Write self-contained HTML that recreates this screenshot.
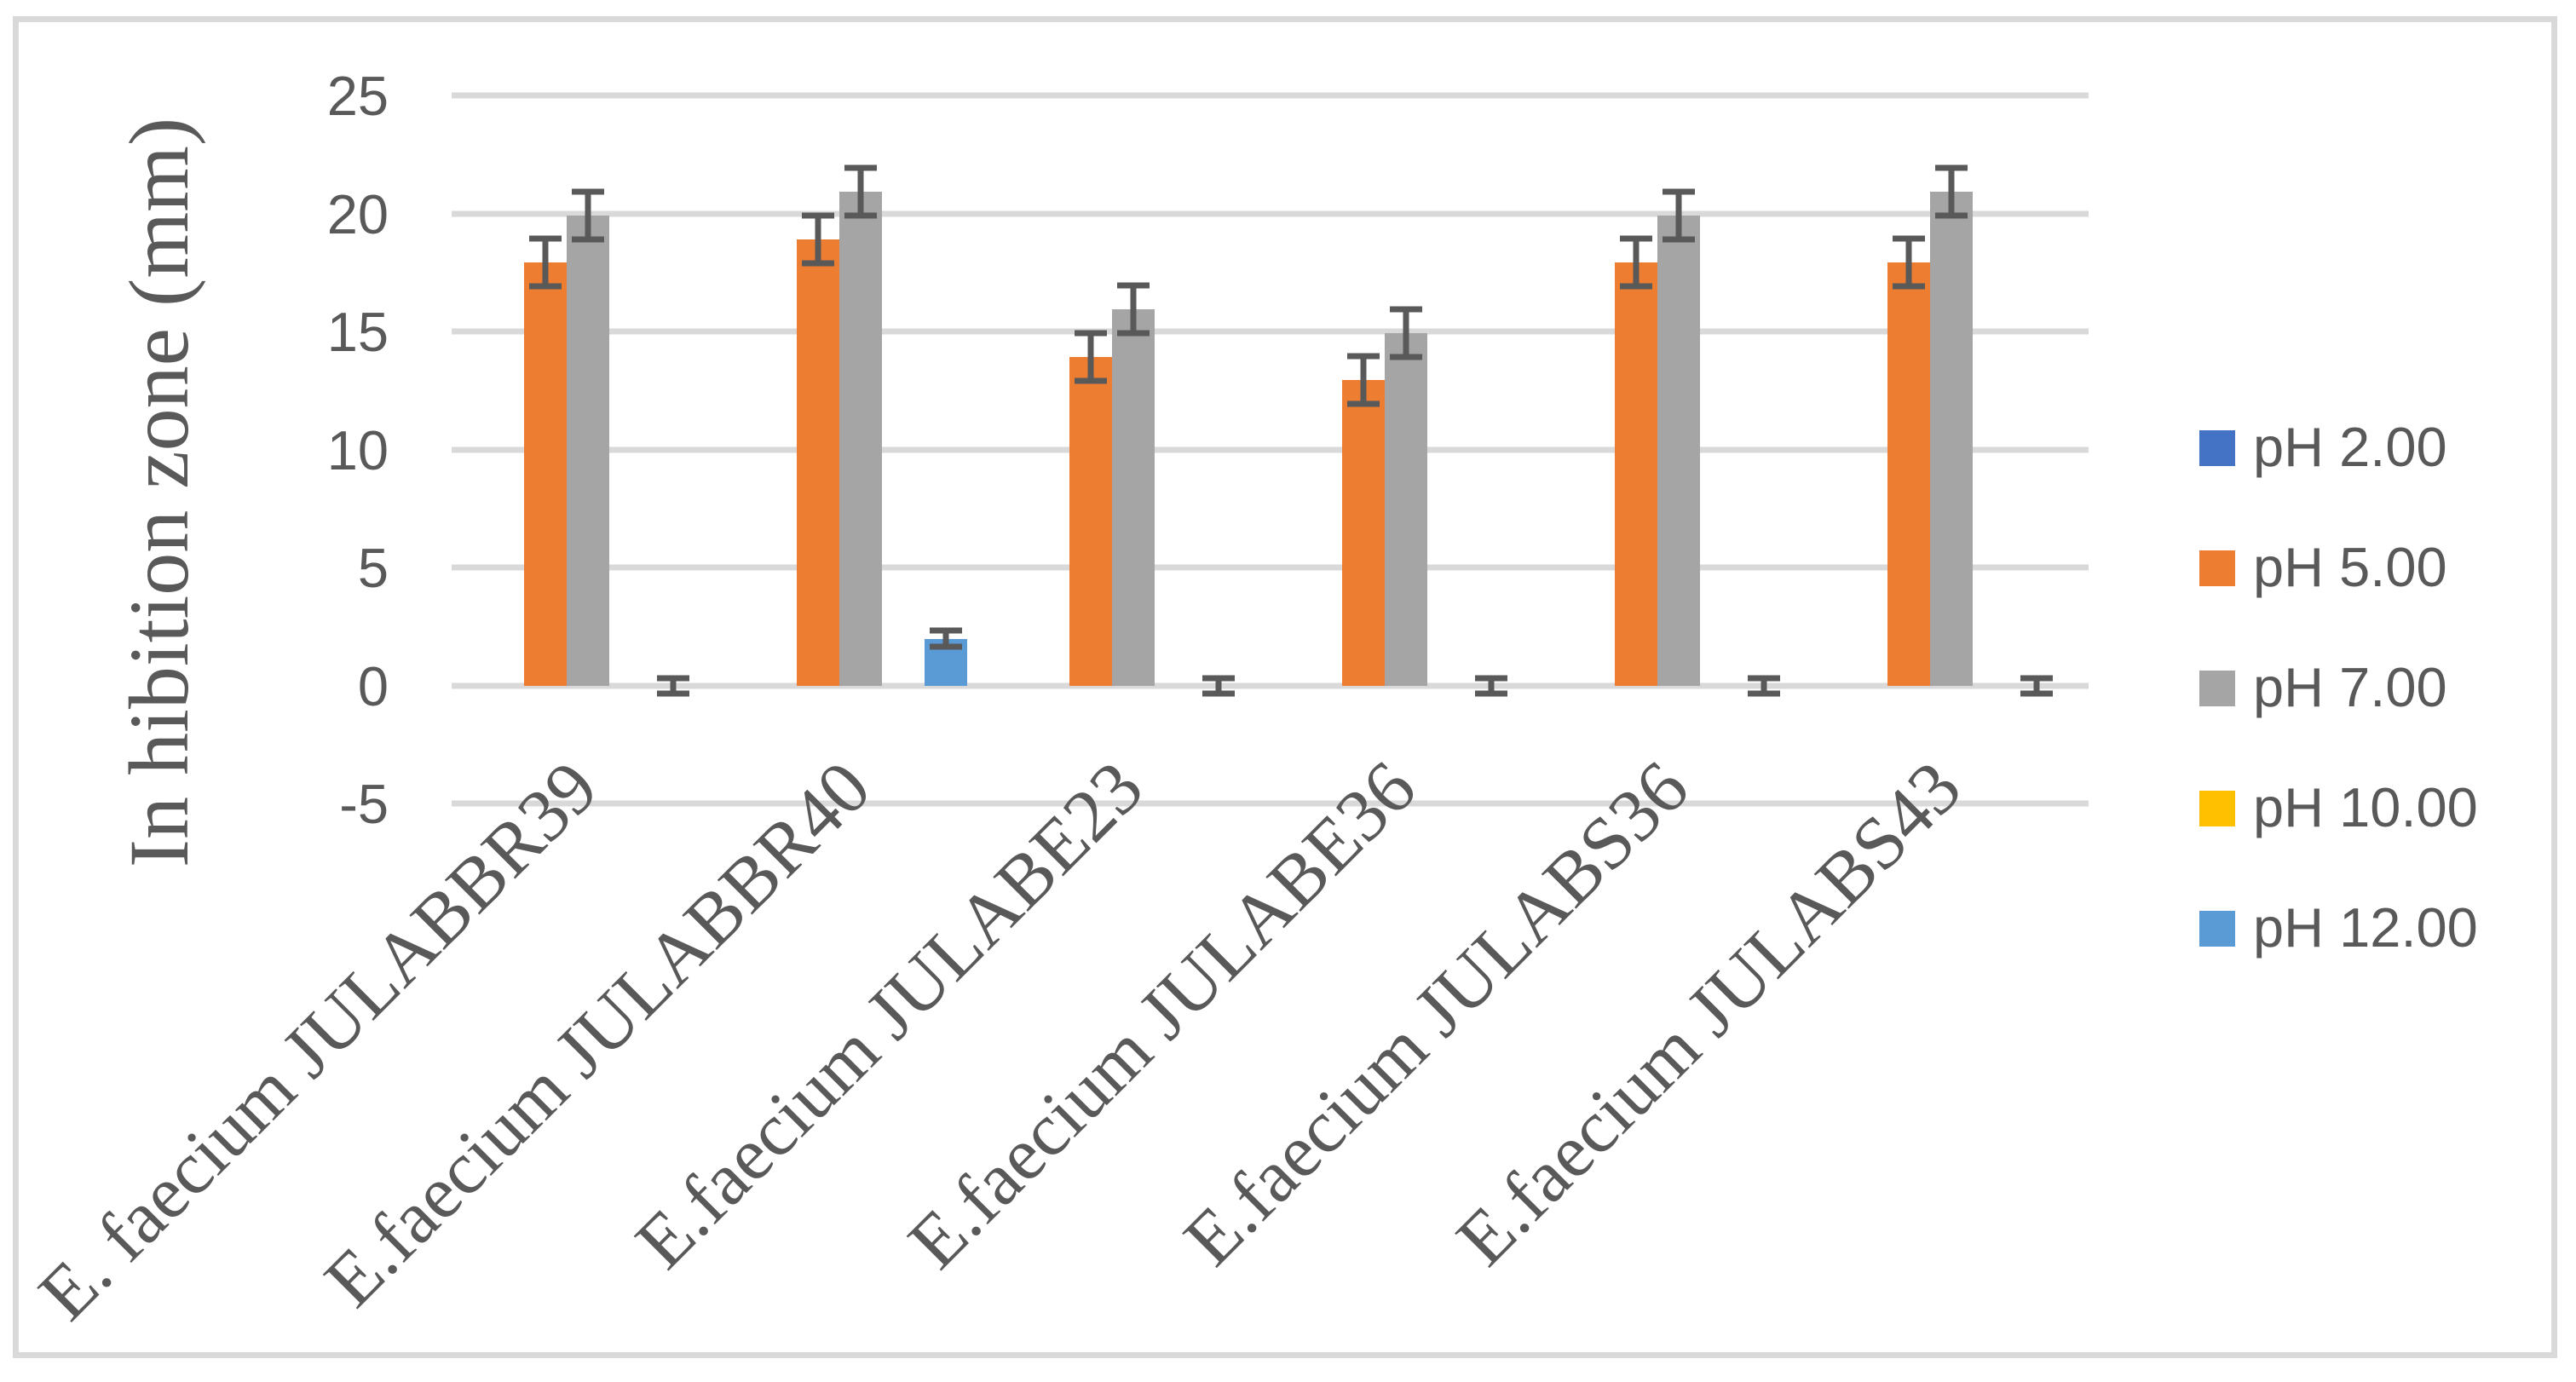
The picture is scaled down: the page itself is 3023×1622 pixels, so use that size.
<!DOCTYPE html>
<html><head><meta charset="utf-8"><style>html,body{margin:0;padding:0;background:#fff}svg{display:block}</style></head>
<body>
<svg width="3023" height="1622" viewBox="0 0 3023 1622" xmlns="http://www.w3.org/2000/svg">
<rect x="0" y="0" width="3023" height="1622" fill="#fff"/>
<rect x="18.5" y="22.5" width="2979" height="1568" fill="none" stroke="#d9d9d9" stroke-width="7"/>
<g stroke="#d9d9d9" stroke-width="7">
<line x1="530" x2="2451" y1="112" y2="112"/>
<line x1="530" x2="2451" y1="251" y2="251"/>
<line x1="530" x2="2451" y1="389" y2="389"/>
<line x1="530" x2="2451" y1="528" y2="528"/>
<line x1="530" x2="2451" y1="666" y2="666"/>
<line x1="530" x2="2451" y1="805" y2="805"/>
<line x1="530" x2="2451" y1="943" y2="943"/>
</g>
<g font-family="Liberation Sans, sans-serif" font-size="65" fill="#595959" text-anchor="end">
<text x="456" y="135">25</text>
<text x="456" y="274">20</text>
<text x="456" y="412">15</text>
<text x="456" y="551">10</text>
<text x="456" y="689">5</text>
<text x="456" y="828">0</text>
<text x="456" y="966">-5</text>
</g>
<text transform="translate(220,578) rotate(-90)" font-family="Liberation Serif, serif" font-size="100" fill="#595959" text-anchor="middle">In hibition zone (mm)</text>
<g>
<rect x="615" y="308" width="50" height="497" fill="#ed7d31"/>
<rect x="665" y="253" width="50" height="552" fill="#a5a5a5"/>
<rect x="935" y="281" width="50" height="524" fill="#ed7d31"/>
<rect x="985" y="225" width="50" height="580" fill="#a5a5a5"/>
<rect x="1085" y="750" width="50" height="55" fill="#5b9bd5"/>
<rect x="1255" y="419" width="50" height="386" fill="#ed7d31"/>
<rect x="1305" y="363" width="50" height="442" fill="#a5a5a5"/>
<rect x="1575" y="446" width="50" height="359" fill="#ed7d31"/>
<rect x="1625" y="391" width="50" height="414" fill="#a5a5a5"/>
<rect x="1895" y="308" width="50" height="497" fill="#ed7d31"/>
<rect x="1945" y="253" width="50" height="552" fill="#a5a5a5"/>
<rect x="2215" y="308" width="50" height="497" fill="#ed7d31"/>
<rect x="2265" y="225" width="50" height="580" fill="#a5a5a5"/>
</g>
<g stroke="#595959" stroke-width="7" fill="none">
<path d="M640 280V336M621 280H659M621 336H659"/>
<path d="M690 225V281M671 225H709M671 281H709"/>
<path d="M790 796V814M771 796H809M771 814H809"/>
<path d="M960 253V309M941 253H979M941 309H979"/>
<path d="M1010 197V253M991 197H1029M991 253H1029"/>
<path d="M1110 740V759M1091 740H1129M1091 759H1129"/>
<path d="M1280 391V447M1261 391H1299M1261 447H1299"/>
<path d="M1330 335V391M1311 335H1349M1311 391H1349"/>
<path d="M1430 796V814M1411 796H1449M1411 814H1449"/>
<path d="M1600 418V474M1581 418H1619M1581 474H1619"/>
<path d="M1650 363V419M1631 363H1669M1631 419H1669"/>
<path d="M1750 796V814M1731 796H1769M1731 814H1769"/>
<path d="M1920 280V336M1901 280H1939M1901 336H1939"/>
<path d="M1970 225V281M1951 225H1989M1951 281H1989"/>
<path d="M2070 796V814M2051 796H2089M2051 814H2089"/>
<path d="M2240 280V336M2221 280H2259M2221 336H2259"/>
<path d="M2290 197V253M2271 197H2309M2271 253H2309"/>
<path d="M2390 796V814M2371 796H2409M2371 814H2409"/>
</g>
<g font-family="Liberation Serif, serif" font-size="88" fill="#595959" text-anchor="end">
<text transform="translate(706,930) rotate(-45)">E. faecium JULABBR39</text>
<text transform="translate(1026,930) rotate(-45)">E.faecium JULABBR40</text>
<text transform="translate(1346,930) rotate(-45)">E.faecium JULABE23</text>
<text transform="translate(1666,930) rotate(-45)">E.faecium JULABE36</text>
<text transform="translate(1986,930) rotate(-45)">E.faecium JULABS36</text>
<text transform="translate(2306,930) rotate(-45)">E.faecium JULABS43</text>
</g>
<g>
<rect x="2581" y="505" width="42" height="42" fill="#4472c4"/>
<rect x="2581" y="646" width="42" height="42" fill="#ed7d31"/>
<rect x="2581" y="787" width="42" height="42" fill="#a5a5a5"/>
<rect x="2581" y="928" width="42" height="42" fill="#ffc000"/>
<rect x="2581" y="1069" width="42" height="42" fill="#5b9bd5"/>
</g>
<g font-family="Liberation Sans, sans-serif" font-size="65" fill="#595959">
<text x="2644" y="547">pH 2.00</text>
<text x="2644" y="688">pH 5.00</text>
<text x="2644" y="829">pH 7.00</text>
<text x="2644" y="970">pH 10.00</text>
<text x="2644" y="1111">pH 12.00</text>
</g>
</svg>
</body></html>
